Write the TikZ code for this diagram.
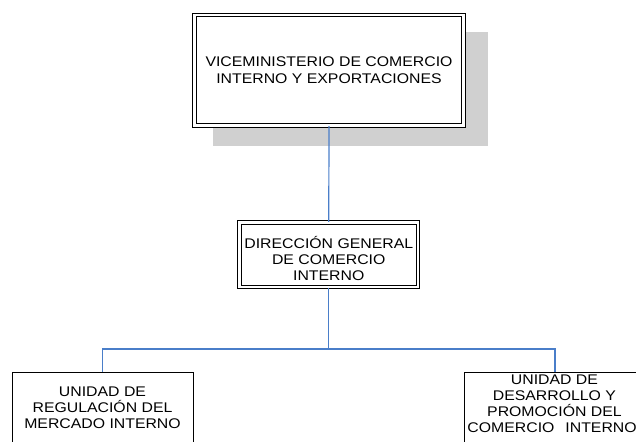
\documentclass[tikz,border=0pt]{standalone}
\usepackage{fontspec}
\setmainfont{Liberation Sans}[FakeStretch=1.13]
\definecolor{shadowgray}{RGB}{208,208,208}
\definecolor{linkblue}{RGB}{74,126,201}
\begin{document}
\begin{tikzpicture}[x=1pt,y=-1pt,
  dblbox/.style={draw=black, line width=1.1pt, double=white, double distance=2.5pt, fill=white, align=center, inner sep=0pt},
  unitbox/.style={draw=black, line width=0.9pt, fill=white, inner xsep=0pt, anchor=north},
  link/.style={draw=linkblue, line width=1.2pt},
  txt/.style={font=\fontsize{14}{16}\selectfont}
]
\useasboundingbox (0,0) rectangle (636,441);
% shadow of top box
\fill[shadowgray] (213,32) rectangle (488,146);
% top box
\node[dblbox, txt, font=\fontsize{14}{16.5}\selectfont, minimum width=269pt, minimum height=110.5pt] (top) at (329,70.25)
  {VICEMINISTERIO DE COMERCIO\\INTERNO Y EXPORTACIONES};
% middle box
\node[dblbox, txt, minimum width=178.5pt, minimum height=64.5pt] (mid) at (328.75,254.75)
  {\raisebox{-3.5pt}[\height][\depth]{\parbox{178pt}{\centering DIRECCIÓN GENERAL\\DE COMERCIO\\INTERNO}}};
% left unit
\node[unitbox, txt, inner ysep=14pt] (left) at (102.5,372)
  {\parbox[t][80pt][t]{181pt}{\centering UNIDAD DE\\REGULACIÓN DEL\\MERCADO INTERNO}};
% right unit
\node[unitbox, txt, anchor=north west, inner ysep=2pt] (right) at (464,372)
  {\parbox[t][90pt][t]{180pt}{\centering UNIDAD DE\\DESARROLLO Y\\PROMOCIÓN DEL\\\makebox[174pt][l]{COMERCIO\hspace{11pt}INTERNO}}\hspace{40pt}};
% connectors
\coordinate (bar) at (328.75,349);
\coordinate (rjoin) at (555,372);
\draw[link] (top.south) -- (mid.north);
\draw[link] (mid.south) -- (bar);
\draw[link] (bar) -| (left.north);
\draw[link] (bar) -| (rjoin);
\end{tikzpicture}
\end{document}
